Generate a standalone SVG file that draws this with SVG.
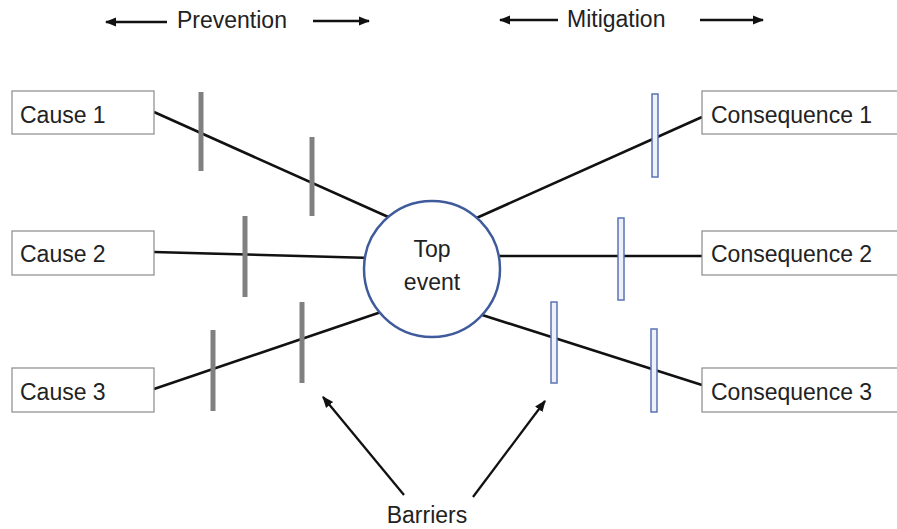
<svg xmlns="http://www.w3.org/2000/svg" width="897" height="529" viewBox="0 0 897 529">
  <style>
    text { font-family: "Liberation Sans", Arial, sans-serif; font-size: 23px; fill: #222; }
    .box { fill: #fff; stroke: #8a8a8a; stroke-width: 1.2; }
    .link { stroke: #111; stroke-width: 2.6; fill: none; }
    .pointer { stroke: #111; stroke-width: 2.3; fill: none; }
    .prev { stroke: #808080; stroke-width: 5; }
    .mit { fill: #eef1fa; stroke: #5b73b5; stroke-width: 1.5; }
  </style>
  <defs>
    <marker id="head" viewBox="0 0 10 10" refX="9" refY="5" markerWidth="5" markerHeight="5" orient="auto-start-reverse" markerUnits="strokeWidth">
      <path d="M0,1 L10,5 L0,9 Z" fill="#111"/>
    </marker>
  </defs>

  <rect width="897" height="529" fill="#fff"/>

  <!-- headings with direction arrows -->
  <g id="heading-prevention">
    <line class="pointer" x1="106" y1="22" x2="167" y2="22" marker-start="url(#head)"/>
    <text x="177" y="28">Prevention</text>
    <line class="pointer" x1="313" y1="21" x2="369" y2="21" marker-end="url(#head)"/>
  </g>
  <g id="heading-mitigation">
    <line class="pointer" x1="500" y1="20" x2="558" y2="20" marker-start="url(#head)"/>
    <text x="567" y="27">Mitigation</text>
    <line class="pointer" x1="700" y1="20" x2="763" y2="20" marker-end="url(#head)"/>
  </g>

  <!-- connectors -->
  <g id="connectors">
    <line class="link" x1="154" y1="112" x2="395" y2="220"/>
    <line class="link" x1="154" y1="252" x2="372" y2="258"/>
    <line class="link" x1="154" y1="389" x2="387" y2="310"/>
    <line class="link" x1="702" y1="117" x2="472" y2="220"/>
    <line class="link" x1="702" y1="256" x2="492" y2="256"/>
    <line class="link" x1="702" y1="385" x2="476" y2="313"/>
    <line class="pointer" x1="404" y1="495" x2="323" y2="397" marker-end="url(#head)"/>
    <line class="pointer" x1="473" y1="497" x2="545" y2="401" marker-end="url(#head)"/>
  </g>

  <!-- prevention barriers -->
  <g id="prevention-barriers">
    <line class="prev" x1="201" y1="92" x2="201" y2="171"/>
    <line class="prev" x1="312" y1="137" x2="312" y2="216"/>
    <line class="prev" x1="245" y1="216" x2="245" y2="297"/>
    <line class="prev" x1="213" y1="330" x2="213" y2="411"/>
    <line class="prev" x1="302" y1="302" x2="302" y2="383"/>
  </g>

  <!-- mitigation barriers -->
  <g id="mitigation-barriers">
    <rect class="mit" x="652" y="94" width="6" height="83"/>
    <rect class="mit" x="618" y="218" width="6" height="82"/>
    <rect class="mit" x="551" y="302" width="6" height="81"/>
    <rect class="mit" x="651" y="329" width="6" height="83"/>
  </g>

  <g id="top-event">
    <circle cx="432" cy="269" r="68" fill="#fff" stroke="#3f5b9c" stroke-width="2.5"/>
    <text x="432" y="257" text-anchor="middle">Top</text>
    <text x="432" y="290" text-anchor="middle">event</text>
  </g>

  <g id="cause-1">
    <rect class="box" x="12" y="91" width="142" height="43"/>
    <text x="20" y="123">Cause 1</text>
  </g>
  <g id="cause-2">
    <rect class="box" x="12" y="231" width="142" height="44"/>
    <text x="20" y="262">Cause 2</text>
  </g>
  <g id="cause-3">
    <rect class="box" x="12" y="368" width="142" height="44"/>
    <text x="20" y="400">Cause 3</text>
  </g>

  <g id="consequence-1">
    <rect class="box" x="702" y="91" width="200" height="43"/>
    <text x="711" y="123">Consequence 1</text>
  </g>
  <g id="consequence-2">
    <rect class="box" x="702" y="231" width="200" height="44"/>
    <text x="711" y="262">Consequence 2</text>
  </g>
  <g id="consequence-3">
    <rect class="box" x="702" y="368" width="200" height="44"/>
    <text x="711" y="400">Consequence 3</text>
  </g>

  <g id="barriers-label">
    <text x="427" y="523" text-anchor="middle">Barriers</text>
  </g>
</svg>
